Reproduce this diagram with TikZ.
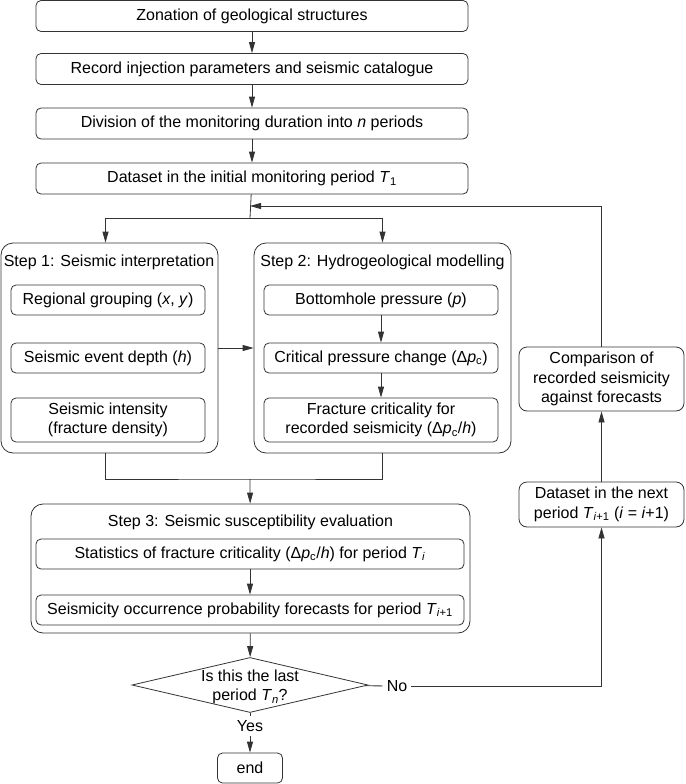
\documentclass[tikz,border=0pt]{standalone}
\usepackage{fontspec}
\setmainfont{Liberation Sans}
\usetikzlibrary{arrows.meta,shapes.geometric}
\newcommand{\sbs}[1]{\textsubscript{#1}}

\begin{document}
\begin{tikzpicture}[x=1pt, y=-1pt, font=\fontsize{16}{19.5}\selectfont,
  every node/.style={align=center, inner sep=0pt},
  line/.style={draw=black!80, line width=0.8pt},
  arr/.style={line, -{Triangle[length=11pt,width=6pt]}},
  box/.style={line, rectangle, rounded corners=5pt, minimum height=31pt},
  inbox/.style={line, rectangle, rounded corners=5pt, minimum height=30pt},
  stepbox/.style={line, rectangle, rounded corners=12pt},
  sidebox/.style={line, rectangle, rounded corners=8pt, minimum width=165pt}]
  \useasboundingbox (0,0) rectangle (685,784);

  % main column
  \node[box, minimum width=432pt] (zone) at (252,16) {Zonation of geological structures};
  \node[box, minimum width=432pt] (record) at (252,69) {Record injection parameters and seismic catalogue};
  \node[box, minimum width=432pt] (divide) at (252,123.5) {Division of the monitoring duration into \textit{n} periods};
  \node[box, minimum width=432pt] (data1) at (252,178.5) {Dataset in the initial monitoring period \textit{T}\sbs{1}};
  \coordinate (split) at (250,218);
  \coordinate (back) at (250,206);

  % step 1
  \node[stepbox, minimum width=217pt, minimum height=210pt] (step1) at (109.5,348) {};
  \node (t1) at (109,262) {Step 1: Seismic interpretation};
  \node[inbox, minimum width=194pt] (region) at (108,300) {Regional grouping (\textit{x}, \textit{y})};
  \node[inbox, minimum width=194pt] (depth) at (108,358) {Seismic event depth (\textit{h})};
  \node[inbox, minimum width=194pt, minimum height=44pt] (intens) at (108,420) {Seismic intensity\\(fracture density)};

  % step 2
  \node[stepbox, minimum width=257pt, minimum height=210pt] (step2) at (382.5,348) {};
  \node (t2) at (382.5,262) {Step 2: Hydrogeological modelling};
  \node[inbox, minimum width=234pt] (bhp) at (381,300) {Bottomhole pressure (\textit{p})};
  \node[inbox, minimum width=234pt] (dpc) at (381,358) {Critical pressure change (Δ\textit{p}\sbs{c})};
  \node[inbox, minimum width=234pt, minimum height=44pt] (frac) at (381,420) {Fracture criticality for\\recorded seismicity (Δ\textit{p}\sbs{c}/\textit{h})};
  \coordinate (join) at (250,479);

  % step 3
  \node[stepbox, minimum width=439pt, minimum height=129pt] (step3) at (250.5,568.5) {};
  \node (t3) at (250.5,522) {Step 3: Seismic susceptibility evaluation};
  \node[inbox, minimum width=428pt] (stat) at (250,554) {Statistics of fracture criticality (Δ\textit{p}\sbs{c}/\textit{h}) for period \textit{T}\sbs{\textit{i}}};
  \node[inbox, minimum width=428pt] (prob) at (250,610) {Seismicity occurrence probability forecasts for period \textit{T}\sbs{\textit{i}+1}};

  % decision and end
  \node[line, diamond, minimum width=236pt, minimum height=55pt,
    label={[align=center, yshift=-2pt]center:Is this the last\\period \textit{T}\sbs{\textit{n}}?}] (last) at (250,685) {};
  \node[inner sep=4pt] (no) at (397,686) {No};
  \node[inner sep=4pt] (yes) at (250,726) {Yes};
  \node[inbox, minimum width=65pt] (stop) at (250,768) {end};

  % feedback column
  \node[sidebox, minimum height=45pt] (next) at (601.5,504.5) {Dataset in the next\\period \textit{T}\sbs{\textit{i}+1} (\textit{i} = \textit{i}+1)};
  \node[sidebox, minimum height=64pt] (compare) at (601.5,379) {Comparison of\\recorded seismicity\\against forecasts};

  % connectors
  \draw[arr] (zone) -- (record);
  \draw[arr] (record) -- (divide);
  \draw[arr] (divide) -- (data1);
  \draw[line] (data1) -- (split);
  \draw[arr] (split) -| ([xshift=-4pt]step1.north);
  \draw[arr] (split) -| (step2.north);
  \draw[arr] (step1) -- (step2);
  \draw[arr] (bhp) -- (dpc);
  \draw[arr] (dpc) -- (frac);
  \draw[line] ([xshift=-4pt]step1.south) |- (join) -| (step2.south);
  \draw[arr] (join) -- (step3);
  \draw[arr] (stat) -- (prob);
  \draw[arr] (step3) -- (last);
  \draw[line] (last) -- (yes);
  \draw[arr] (yes) -- (stop);
  \draw[line] (last) -- (no);
  \draw[arr] (no.east) -| (next.south);
  \draw[arr] (next) -- (compare);
  \draw[arr] (compare) |- (back);
\end{tikzpicture}
\end{document}
